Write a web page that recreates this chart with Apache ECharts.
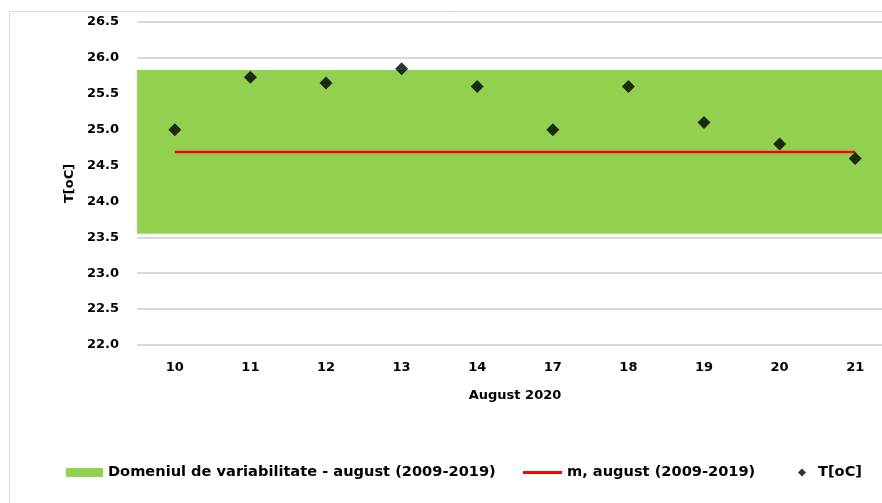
<!DOCTYPE html>
<html>
<head>
<meta charset="utf-8">
<script src="https://cdn.jsdelivr.net/npm/echarts@6/dist/echarts.min.js"></script>
<style>html,body{margin:0;padding:0;background:#fff;overflow:hidden;width:882px;height:503px;}#c{width:900px;height:503px;}</style>
</head>
<body>
<div id="c"></div>
<script>
const categories = ['10', '11', '12', '13', '14', '17', '18', '19', '20', '21'];
const tempValues = [25.0, 25.73, 25.65, 25.85, 25.6, 25.0, 25.6, 25.1, 24.8, 24.6];
const meanValues = [24.69, 24.69, 24.69, 24.69, 24.69, 24.69, 24.69, 24.69, 24.69, 24.69];
const bandRange = [23.55, 25.83];
const yTicks = { min: 22, max: 26.5, step: 0.5 };
const names = {
  band: 'Domeniul de variabilitate - august (2009-2019)',
  mean: 'm, august (2009-2019)',
  temp: 'T[oC]'
};

const FONT = 'DejaVu Sans';
const chart = echarts.init(document.getElementById('c'), null, { renderer: 'canvas' });
const legendText = { fontFamily: FONT, fontWeight: 'bold', fontSize: 14.6, color: '#000' };

chart.setOption({
  backgroundColor: '#fff',
  animation: false,
  graphic: [{
    type: 'rect', left: 7, top: 9, shape: { width: 900, height: 600 },
    style: { fill: 'none', stroke: '#d9d9d9', lineWidth: 1 }, z: -10
  }],
  grid: { left: 137, width: 756, top: 22, bottom: 158 },
  legend: [
    { left: 61, top: 460, itemWidth: 37, itemHeight: 9, textStyle: legendText,
      data: [{ name: names.band, icon: 'rect', itemStyle: { color: '#92D050' } }] },
    { left: 518, top: 460, itemWidth: 39, itemHeight: 3, textStyle: legendText,
      data: [{ name: names.mean, icon: 'rect', itemStyle: { color: '#FF0000' } }] },
    { left: 793, top: 460, itemWidth: 8, itemHeight: 8,
      textStyle: Object.assign({}, legendText, { padding: [0, 0, 0, 7] }),
      data: [{ name: names.temp, icon: 'diamond', itemStyle: { color: '#000' } }] }
  ],
  xAxis: {
    type: 'category',
    data: categories,
    boundaryGap: true,
    axisLine: { show: false },
    axisTick: { show: false },
    axisLabel: { fontFamily: FONT, fontWeight: 'bold', fontSize: 13, color: '#000', margin: 16 },
    name: 'August 2020',
    nameLocation: 'middle',
    nameGap: 44,
    nameTextStyle: { fontFamily: FONT, fontWeight: 'bold', fontSize: 13, color: '#000' }
  },
  yAxis: {
    type: 'value',
    min: yTicks.min, max: yTicks.max, interval: yTicks.step,
    axisLine: { show: false },
    axisTick: { show: false },
    splitLine: { show: true, lineStyle: { color: '#d9d9d9', width: 2 } },
    axisLabel: { fontFamily: FONT, fontWeight: 'bold', fontSize: 13, color: '#000', margin: 18,
      formatter: v => v.toFixed(1) },
    name: 'T[oC]',
    nameLocation: 'middle',
    nameRotate: 90,
    nameGap: 60,
    nameTextStyle: { fontFamily: FONT, fontWeight: 'bold', fontSize: 13, color: '#000' }
  },
  series: [
    {
      name: names.band,
      type: 'line',
      data: [],
      itemStyle: { color: '#92D050' },
      markArea: {
        silent: true,
        itemStyle: { color: '#92D050', opacity: 1 },
        data: [[{ yAxis: bandRange[0] }, { yAxis: bandRange[1] }]]
      },
      z: 1
    },
    {
      name: names.mean,
      type: 'line',
      data: meanValues,
      symbol: 'none',
      lineStyle: { color: '#FF0000', width: 2.5 },
      itemStyle: { color: '#FF0000' },
      z: 3
    },
    {
      name: names.temp,
      type: 'scatter',
      data: tempValues,
      symbol: 'diamond',
      symbolSize: 13,
      itemStyle: { color: '#000' },
      z: 4
    }
  ]
});
</script>
</body>
</html>
